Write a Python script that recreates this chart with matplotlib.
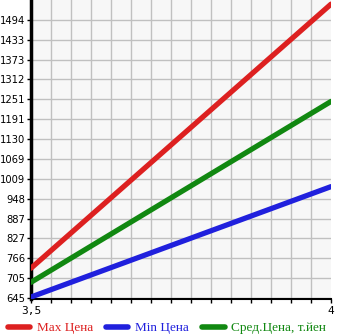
import matplotlib
matplotlib.use("Agg")
import matplotlib.pyplot as plt
from matplotlib.lines import Line2D

# data
years = [3.5, 4.0]
max_price = [736, 1542]
min_price = [648, 985]
avg_price = [693, 1245]

y_ticks = [645, 705, 766, 827, 887, 948, 1009, 1069, 1130, 1191, 1251, 1312, 1373, 1433, 1494]
x_labels = {3.5: "3,5", 4.0: "4"}

RED = "#dd2020"
BLUE = "#2020dd"
GREEN = "#118811"

fig = plt.figure(figsize=(3.45, 3.35), dpi=100)
ax = fig.add_axes([31 / 345, 36 / 335, 300 / 345, 299 / 335])
ax.set_facecolor("#f7f7f7")

ax.plot(years, max_price, color=RED, lw=3.8, solid_capstyle="round", zorder=3)
ax.plot(years, avg_price, color=GREEN, lw=3.8, solid_capstyle="round", zorder=3)
ax.plot(years, min_price, color=BLUE, lw=3.8, solid_capstyle="round", zorder=3)

ystep = (1494 - 645) / 14.0
ax.set_ylim(645 - ystep * 0.05, 645 + ystep * 15)
ax.set_xlim(3.5, 4.0)

ax.set_yticks(y_ticks)
ax.set_yticklabels([str(v) for v in y_ticks], fontsize=7.2, family="DejaVu Sans")
ax.set_xticks(list(x_labels.keys()))
ax.set_xticklabels(list(x_labels.values()), fontsize=8, family="DejaVu Sans Mono")
ax.set_xticks([3.5 + i * 0.5 / 15 for i in range(16)], minor=True)
ax.tick_params(axis="x", which="both", direction="out", length=3, width=1, pad=2)
ax.tick_params(axis="y", direction="out", length=3, width=1, pad=1)

ax.grid(True, which="minor", axis="x", color="#c0c0c0", lw=1)
ax.grid(True, which="major", axis="y", color="#c0c0c0", lw=1)
ax.set_axisbelow(True)

for s in ["top", "right"]:
    ax.spines[s].set_visible(False)
ax.spines["left"].set_linewidth(2.5)
ax.spines["bottom"].set_linewidth(1.5)

handles = [Line2D([0], [0], color=c, lw=4, solid_capstyle="round") for c in (RED, BLUE, GREEN)]
names = ["Max Цена", "Min Цена", "Сред.Цена, т.йен"]
leg = fig.legend(handles, names, loc="lower left", bbox_to_anchor=(-0.005, -0.025), ncol=3,
                 frameon=False, handlelength=1.7, handletextpad=0.5,
                 columnspacing=1.0, borderaxespad=0.3,
                 prop={"family": "Liberation Serif", "size": 9.5})
for t, c in zip(leg.get_texts(), (RED, BLUE, GREEN)):
    t.set_color(c)

fig.savefig("out.png", dpi=100)
